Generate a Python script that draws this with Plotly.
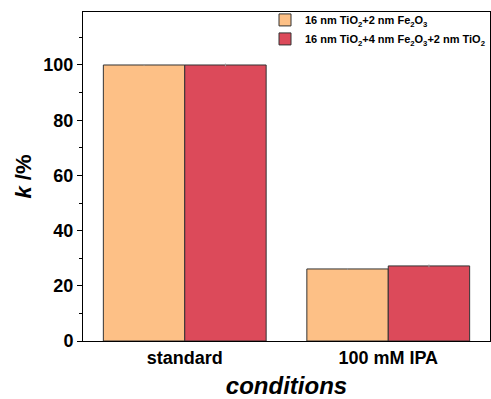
import plotly.graph_objects as go

categories = ["standard", "100 mM IPA"]
series_names = ["16 nm TiO<sub>2</sub>+2 nm Fe<sub>2</sub>O<sub>3</sub>",
                "16 nm TiO<sub>2</sub>+4 nm Fe<sub>2</sub>O<sub>3</sub>+2 nm TiO<sub>2</sub>"]
values_a = [100, 26.1]
values_b = [100, 27.2]
err_a = [0.3, 0.3]
err_b = [0.5, 0.5]
colors = ["#FDC086", "#DC4A5A"]

fig = go.Figure()
for name, vals, errs, col in zip(series_names, [values_a, values_b], [err_a, err_b], colors):
    fig.add_trace(go.Bar(
        x=categories, y=vals, name=name,
        marker=dict(color=col, line=dict(color="#333333", width=1)),
        error_y=dict(type="data", array=errs, color="#999999", thickness=1, width=0),
    ))

font = "Liberation Sans, Arial, sans-serif"
fig.update_layout(
    width=491, height=399,
    margin=dict(l=83, r=1, t=12, b=58),
    paper_bgcolor="white", plot_bgcolor="white",
    barmode="group", bargap=0.2, bargroupgap=0,
    font=dict(family=font, color="black"),
    legend=dict(x=1.0, y=1.02, xanchor="right", yanchor="top",
                bgcolor="rgba(0,0,0,0)", font=dict(size=11, family=font, color="black", weight="bold"),
                itemwidth=30, tracegroupgap=0),
    xaxis=dict(range=[-0.5, 1.5], showline=True, linecolor="black", linewidth=1, mirror=True,
               ticks="", tickfont=dict(size=18, family=font, weight="bold"),
               title=dict(text="<b><i>conditions</i></b>", font=dict(size=24, family=font), standoff=11)),
    yaxis=dict(range=[0, 119.2], showline=True, linecolor="black", linewidth=1, mirror=True,
               ticks="outside", ticklen=5, tickwidth=1, tickcolor="black", dtick=20,
               minor=dict(ticks="outside", ticklen=3, dtick=10, tickcolor="black"),
               showgrid=False, zeroline=False,
               tickfont=dict(size=18, family=font, weight="bold"),
               title=dict(text="<b><i>k</i> /%</b>", font=dict(size=22, family=font), standoff=5)),
)
fig.write_html("out.html")
